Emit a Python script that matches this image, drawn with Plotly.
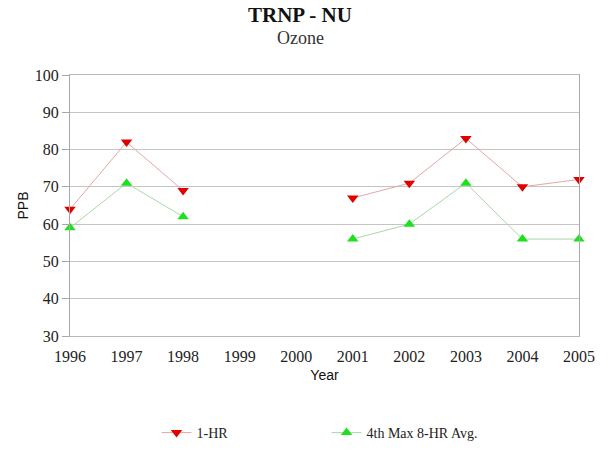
import plotly.graph_objects as go

years = [1996, 1997, 1998, 1999, 2000, 2001, 2002, 2003, 2004, 2005]
one_hr = [64, 82, 69, None, None, 67, 71, 83, 70, 72]
eight_hr_4th_max = [59, 71, 62, None, None, 56, 60, 71, 56, 56]
y_ticks = [30, 40, 50, 60, 70, 80, 90, 100]

serif = "Liberation Serif, Times New Roman, serif"
sans = "Liberation Sans, Arial, sans-serif"

W, H = 613, 452
ML, MR, MT, MB = 70, 34, 75, 116
plot_w = W - ML - MR
plot_h = H - MT - MB


def px_to_paper_y(y_px):
    return (H - MB - y_px) / plot_h


title_x = (300 - ML) / plot_w

fig = go.Figure()
fig.add_trace(go.Scatter(
    x=years, y=one_hr, name="1-HR", mode="lines+markers",
    line=dict(color="#e3a6a6", width=1),
    marker=dict(symbol="triangle-down", size=10, color="#e00000"),
    connectgaps=False, cliponaxis=False,
))
fig.add_trace(go.Scatter(
    x=years, y=eight_hr_4th_max, name="4th Max 8-HR Avg.", mode="lines+markers",
    line=dict(color="#a8d8a8", width=1),
    marker=dict(symbol="triangle-up", size=10, color="#1ee01e"),
    connectgaps=False, cliponaxis=False,
))

fig.update_layout(
    width=W, height=H,
    margin=dict(l=ML, r=MR, t=MT, b=MB, autoexpand=False),
    paper_bgcolor="white", plot_bgcolor="white",
    showlegend=True,
    legend=dict(
        orientation="h", x=0.17, xanchor="left", y=px_to_paper_y(417), yanchor="top",
        font=dict(family=serif, size=14, color="#222"),
        itemwidth=30, tracegroupgap=0,
        entrywidth=125,
    ),
    annotations=[
        dict(text="<b>TRNP - NU</b>", x=title_x, y=px_to_paper_y(15), xref="paper", yref="paper",
             showarrow=False, font=dict(family=serif, size=21, color="#111"), yanchor="middle"),
        dict(text="Ozone", x=title_x, y=px_to_paper_y(38), xref="paper", yref="paper",
             showarrow=False, font=dict(family=serif, size=18, color="#333"), yanchor="middle"),
    ],
)

fig.update_xaxes(
    range=[1996, 2005], tickmode="array", tickvals=years,
    ticktext=[str(y) for y in years],
    showgrid=False, zeroline=False, automargin=False,
    showline=True, linecolor="#b8b8b8", linewidth=1, mirror=True,
    tickfont=dict(family=serif, size=16, color="#222"),
    title=dict(text="Year", font=dict(family=sans, size=14, color="#111"), standoff=5),
    ticks="", ticklabelstandoff=6,
)
fig.update_yaxes(
    range=[30, 100], tickmode="array", tickvals=y_ticks,
    showgrid=True, gridcolor="#c4c4c4", gridwidth=1, zeroline=False, automargin=False,
    showline=True, linecolor="#a8a8a8", linewidth=1, mirror=True,
    ticks="outside", ticklen=7, tickcolor="#a8a8a8",
    tickfont=dict(family=serif, size=16, color="#222"),
    title=dict(text="PPB", font=dict(family=sans, size=14, color="#111"), standoff=2),
)

fig.write_html("out.html")
